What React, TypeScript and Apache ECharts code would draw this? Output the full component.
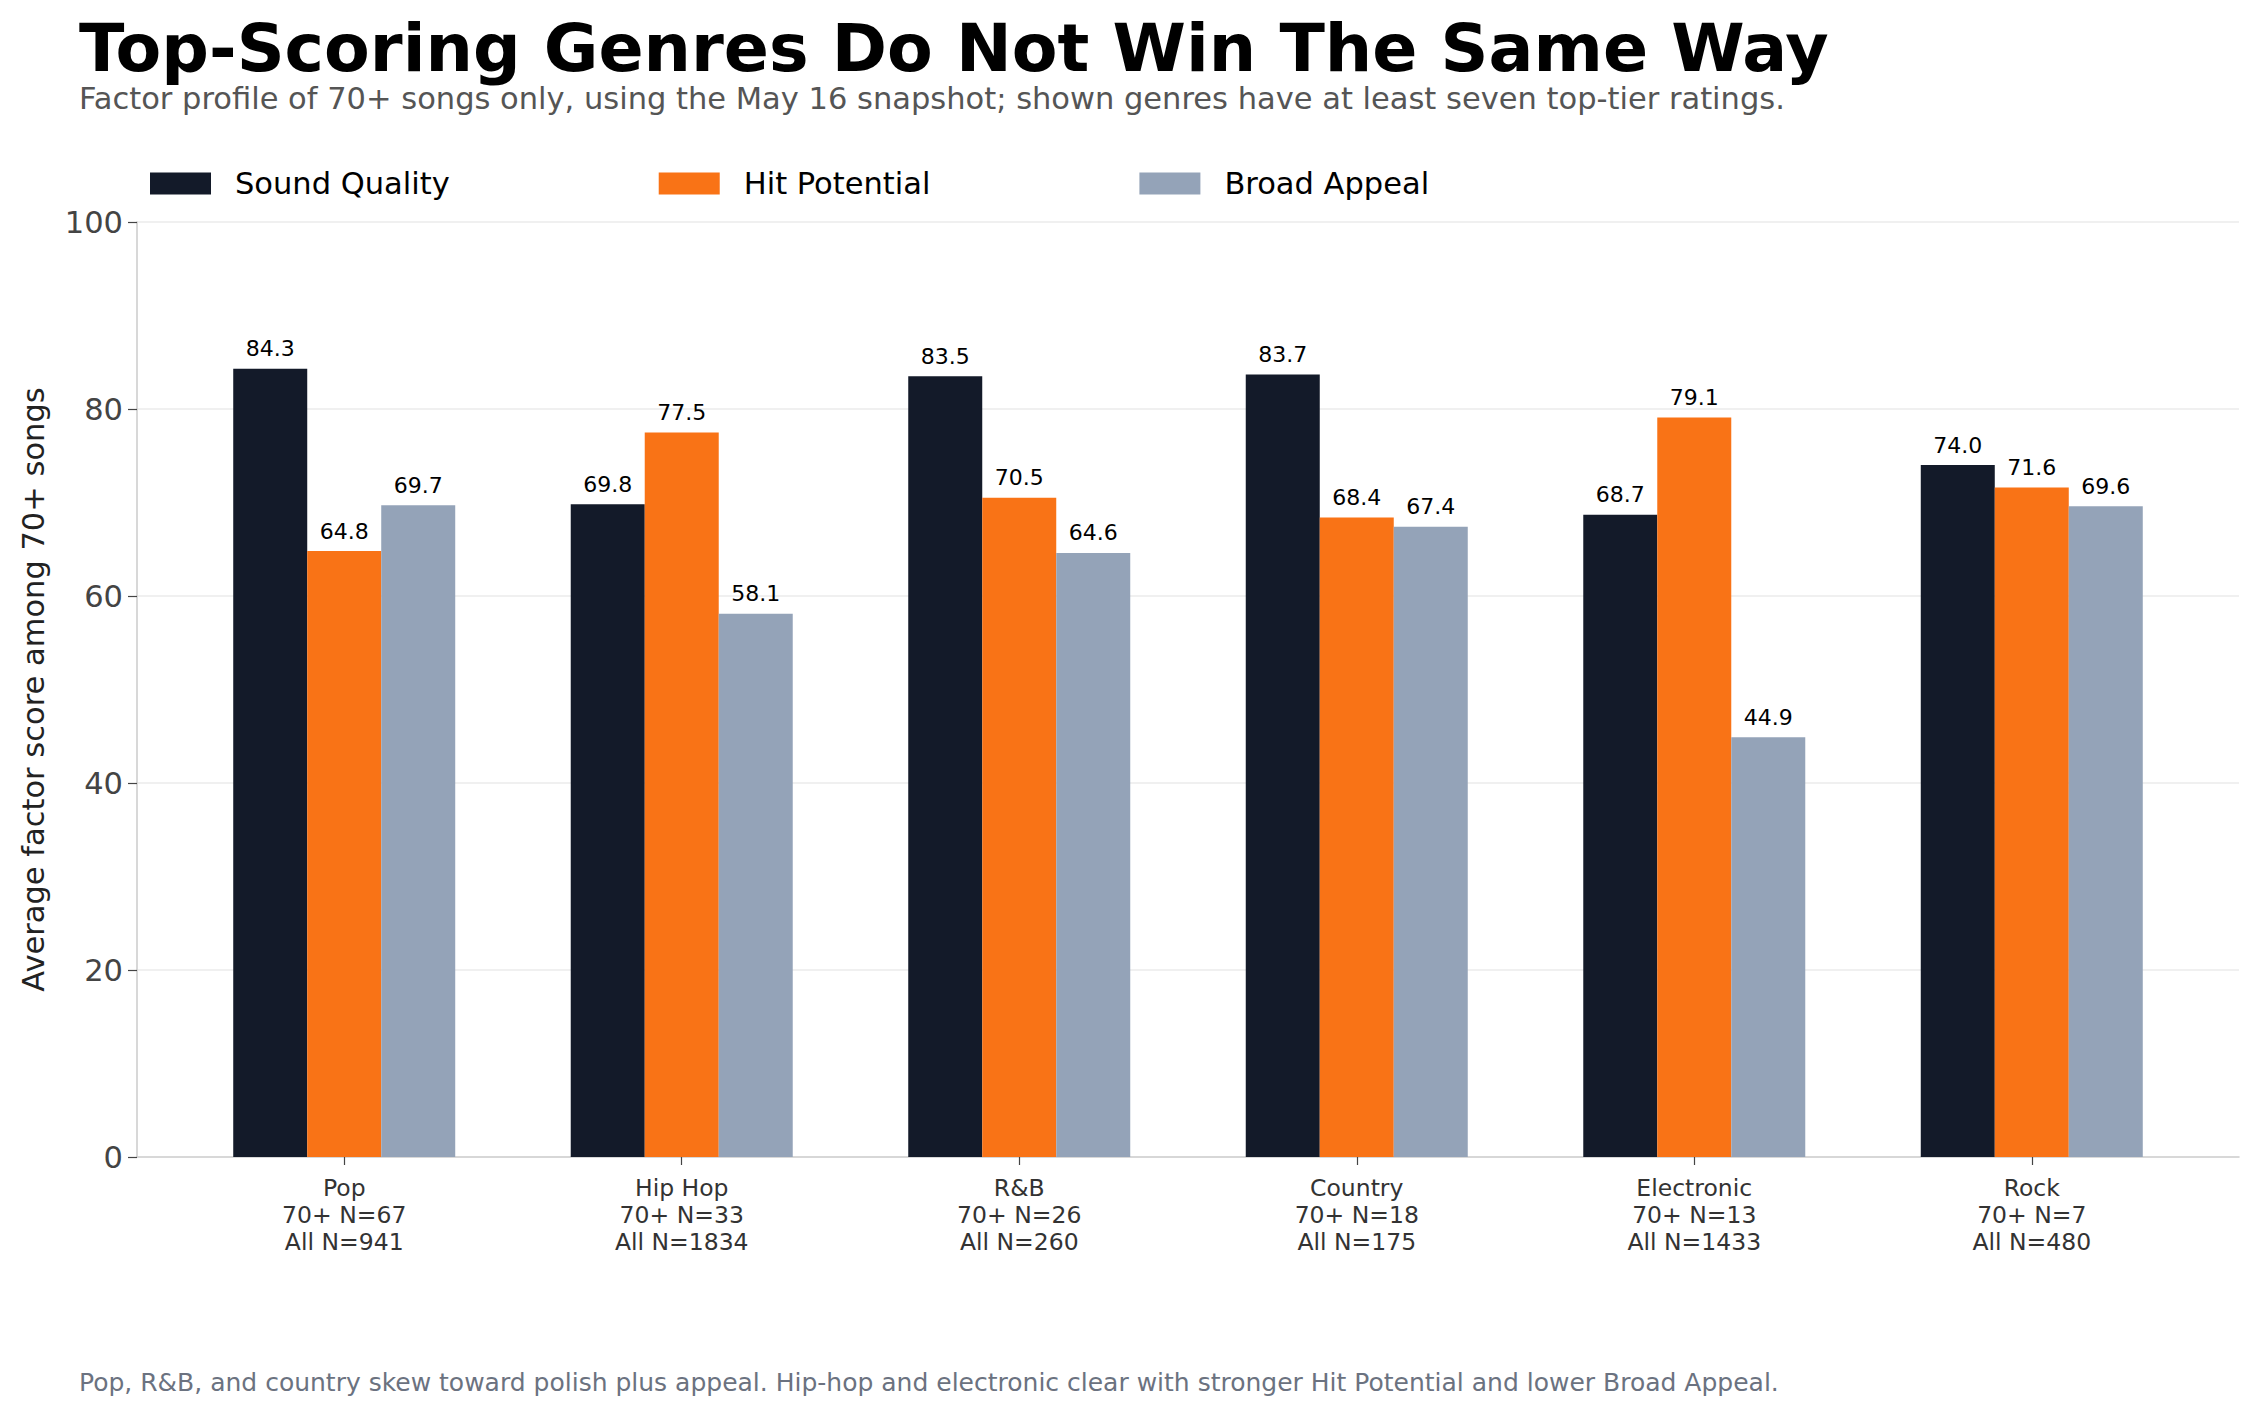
import React, { useEffect, useRef } from "react";
import * as echarts from "echarts";

const FONT = "DejaVu Sans";

const genres = ["Pop", "Hip Hop", "R&B", "Country", "Electronic", "Rock"];
const topTierCounts = [67, 33, 26, 18, 13, 7];
const allCounts = [941, 1834, 260, 175, 1433, 480];

const soundQuality = [84.3, 69.8, 83.5, 83.7, 68.7, 74.0];
const hitPotential = [64.8, 77.5, 70.5, 68.4, 79.1, 71.6];
const broadAppeal = [69.7, 58.1, 64.6, 67.4, 44.9, 69.6];

const seriesNames = ["Sound Quality", "Hit Potential", "Broad Appeal"];
const seriesColors = ["#131a29", "#f97316", "#94a3b8"];

const yTicks = [0, 20, 40, 60, 80, 100];

const titleText = "Top-Scoring Genres Do Not Win The Same Way";
const subtitleText =
  "Factor profile of 70+ songs only, using the May 16 snapshot; shown genres have at least seven top-tier ratings.";
const footnoteText =
  "Pop, R&B, and country skew toward polish plus appeal. Hip-hop and electronic clear with stronger Hit Potential and lower Broad Appeal.";
const yAxisTitle = "Average factor score among 70+ songs";

export default function App() {
  const ref = useRef<HTMLDivElement>(null);

  useEffect(() => {
    if (!ref.current) return;
    const chart = echarts.init(ref.current, null, { renderer: "svg" });
    const positions = genres.map((_, i) => i);
    const valueSets = [soundQuality, hitPotential, broadAppeal];

    const series = valueSets.map((vals, s) => ({
      name: seriesNames[s],
      type: "bar",
      data: vals.map((v, i) => [i, v]),
      barWidth: 74,
      barGap: "0%",
      itemStyle: { color: seriesColors[s] },
      label: {
        show: true,
        position: "top",
        distance: 9,
        fontFamily: FONT,
        fontSize: 22,
        color: "#000",
        formatter: (p: any) => Number(p.value[1]).toFixed(1),
      },
    }));

    chart.setOption({
      animation: false,
      backgroundColor: "#fff",
      textStyle: { fontFamily: FONT },
      title: [
        {
          text: titleText,
          left: 79,
          top: 17,
          padding: 0,
          textStyle: {
            fontFamily: FONT,
            fontSize: 66.6,
            fontWeight: "bold",
            color: "#000",
            lineHeight: 62,
          },
        },
        {
          text: subtitleText,
          left: 79,
          top: 83,
          padding: 0,
          textStyle: {
            fontFamily: FONT,
            fontSize: 30.5,
            fontWeight: "normal",
            color: "#555",
            lineHeight: 30,
          },
        },
        {
          text: footnoteText,
          left: 79,
          top: 1368,
          padding: 0,
          textStyle: {
            fontFamily: FONT,
            fontSize: 25,
            fontWeight: "normal",
            color: "#6b7280",
            lineHeight: 28,
          },
        },
      ],
      legend: {
        data: seriesNames,
        left: 150,
        top: 168,
        padding: 0,
        icon: "rect",
        itemWidth: 61,
        itemHeight: 22,
        itemGap: 209,
        selectedMode: false,
        textStyle: {
          fontFamily: FONT,
          fontSize: 30.5,
          color: "#000",
          padding: [0, 0, 0, 19],
        },
      },
      grid: { left: 137, right: 19, top: 222, bottom: 258, containLabel: false },
      xAxis: {
        type: "value",
        min: -0.614,
        max: 5.614,
        splitLine: { show: false },
        axisLine: { show: true, onZero: false, lineStyle: { color: "#cfcfcf", width: 1.6 } },
        axisTick: {
          show: true,
          customValues: positions,
          length: 8,
          lineStyle: { color: "#444", width: 1.2 },
        },
        axisLabel: {
          customValues: positions,
          margin: 17,
          fontFamily: FONT,
          fontSize: 23.5,
          lineHeight: 27,
          color: "#333",
          formatter: (v: number) => {
            const i = Math.round(v);
            return `${genres[i]}\n70+ N=${topTierCounts[i]}\nAll N=${allCounts[i]}`;
          },
        },
      },
      yAxis: {
        type: "value",
        min: 0,
        max: 100,
        interval: 20,
        name: yAxisTitle,
        nameLocation: "middle",
        nameGap: 88,
        nameTextStyle: { fontFamily: FONT, fontSize: 30.5, color: "#222" },
        axisLine: { show: true, onZero: false, lineStyle: { color: "#cfcfcf", width: 1.6 } },
        axisTick: { show: true, length: 9, lineStyle: { color: "#444", width: 1.2 } },
        axisLabel: {
          margin: 14,
          fontFamily: FONT,
          fontSize: 30.5,
          color: "#444",
          customValues: yTicks,
        },
        splitLine: { show: true, lineStyle: { color: "#ebebeb", width: 1.6 } },
      },
      series,
    });

    return () => chart.dispose();
  }, []);

  return (
    <div
      ref={ref}
      style={{ position: "fixed", left: 0, top: 0, width: 2258, height: 1415 }}
    />
  );
}
